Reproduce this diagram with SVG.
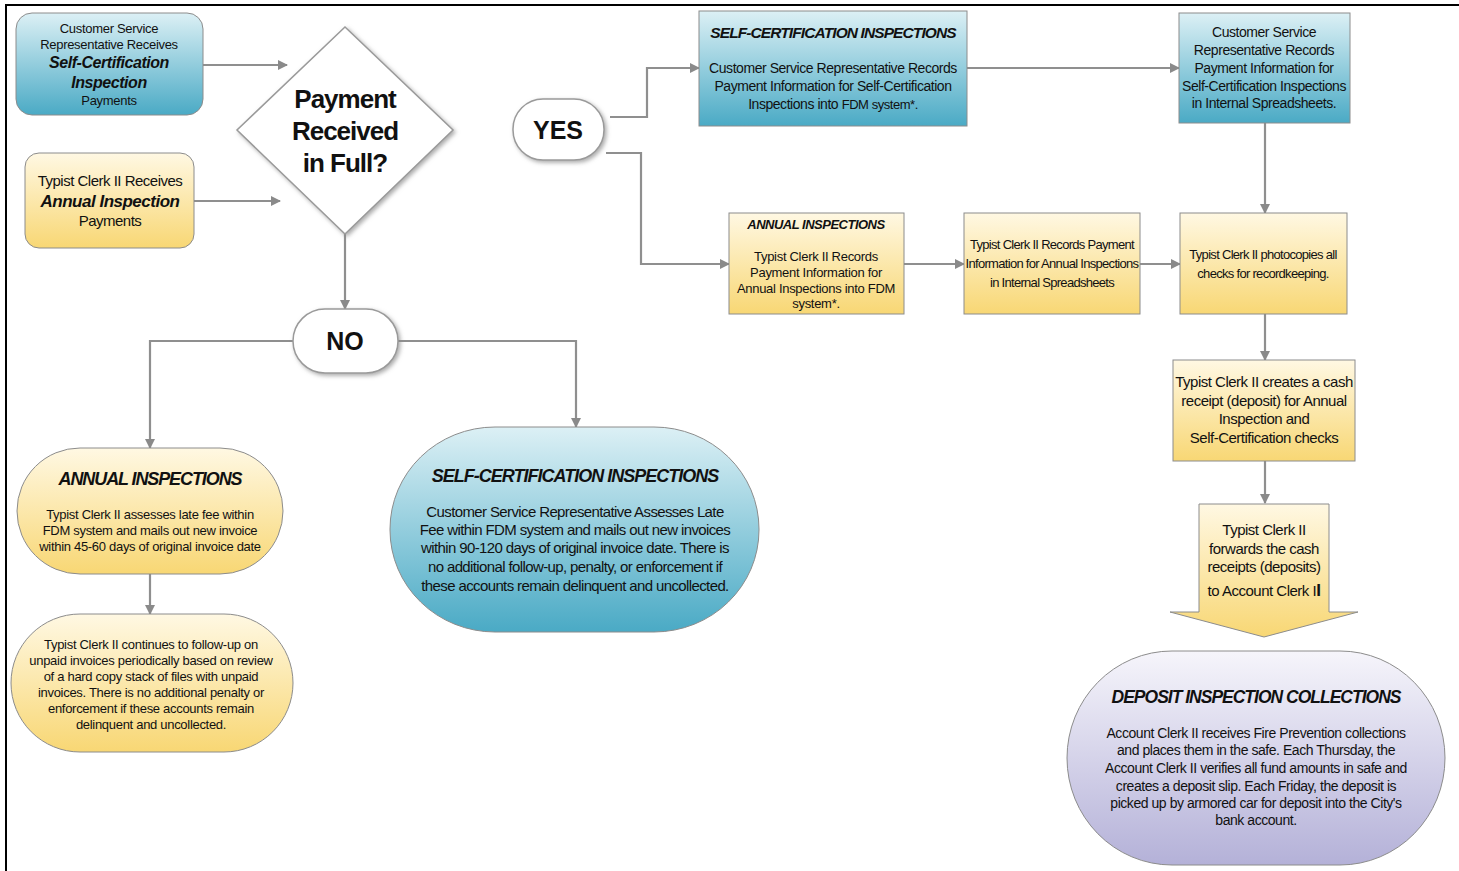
<svg xmlns="http://www.w3.org/2000/svg" width="1459" height="871" viewBox="0 0 1459 871">
<defs>
<linearGradient id="gBlue" x1="0" y1="0" x2="0" y2="1"><stop offset="0" stop-color="#dcf0f5"/><stop offset="1" stop-color="#4aaac5"/></linearGradient>
<linearGradient id="gYel" x1="0" y1="0" x2="0" y2="1"><stop offset="0" stop-color="#fff8e3"/><stop offset="1" stop-color="#f8d774"/></linearGradient>
<linearGradient id="gLav" x1="0" y1="0" x2="0" y2="1"><stop offset="0" stop-color="#f6f5fb"/><stop offset="1" stop-color="#b4b1d8"/></linearGradient>
<filter id="sh" x="-20%" y="-20%" width="140%" height="140%"><feDropShadow dx="2" dy="2" stdDeviation="2" flood-color="#888" flood-opacity="0.7"/></filter>
<marker id="ah" viewBox="0 0 10 10" refX="9" refY="5" markerWidth="10" markerHeight="10" markerUnits="userSpaceOnUse" orient="auto"><path d="M0,0 L10,5 L0,10 z" fill="#8a8a8a"/></marker>
<style>
text{font-family:"Liberation Sans",Arial,sans-serif;fill:#111;text-anchor:middle}
.n{stroke:#8c8c8c;stroke-width:1}
.c{fill:none;stroke:#8f8f8f;stroke-width:2.2}
.bi{font-weight:bold;font-style:italic}
.b{font-weight:bold}
.t13{font-size:13px;letter-spacing:-0.3px}
.t13n{font-size:13px;letter-spacing:-0.7px}
.t14{font-size:14px;letter-spacing:-0.45px}
.t15{font-size:15px;letter-spacing:-0.5px}
.t15n{font-size:15px;letter-spacing:-0.62px}
.dt{font-size:26px;font-weight:bold;letter-spacing:-1px}
</style>
</defs>
<rect width="1459" height="871" fill="#fff"/>
<path d="M6,871 V5 H1459" fill="none" stroke="#000" stroke-width="2"/>

<g id="connectors">
<path class="c" d="M203,65 H287" marker-end="url(#ah)"/>
<path class="c" d="M194,201 H280" marker-end="url(#ah)"/>
<path class="c" d="M610,117 H647 V68 H699" marker-end="url(#ah)"/>
<path class="c" d="M606,153 H641 V264 H729" marker-end="url(#ah)"/>
<path class="c" d="M967,68 H1179" marker-end="url(#ah)"/>
<path class="c" d="M1265,123 V213" marker-end="url(#ah)"/>
<path class="c" d="M904,264 H964" marker-end="url(#ah)"/>
<path class="c" d="M1140,264 H1180" marker-end="url(#ah)"/>
<path class="c" d="M1265,314 V360" marker-end="url(#ah)"/>
<path class="c" d="M1265,461 V503" marker-end="url(#ah)"/>
<path class="c" d="M345,234 V309" marker-end="url(#ah)"/>
<path class="c" d="M293,341 H150 V448" marker-end="url(#ah)"/>
<path class="c" d="M398,341 H576 V427" marker-end="url(#ah)"/>
<path class="c" d="M150,574 V614" marker-end="url(#ah)"/>
</g>

<g id="csr-receives">
<rect class="n" x="16" y="13" width="187" height="102" rx="16" fill="url(#gBlue)"/>
<text class="t13" x="109" y="33">Customer Service</text>
<text class="t13" x="109" y="49">Representative Receives</text>
<text class="bi" font-size="16" letter-spacing="-0.45" x="109" y="68">Self-Certification</text>
<text class="bi" font-size="16" letter-spacing="-0.45" x="109" y="88">Inspection</text>
<text class="t13" x="109" y="105">Payments</text>
</g>

<g id="typist-receives">
<rect class="n" x="25" y="153" width="169" height="95" rx="14" fill="url(#gYel)"/>
<text class="t15" x="110" y="186">Typist Clerk II Receives</text>
<text class="bi" font-size="17" letter-spacing="-0.5" x="110" y="207">Annual Inspection</text>
<text class="t15" x="110" y="226">Payments</text>
</g>

<g id="decision">
<path d="M345,27 L453,130 L345,234 L237,130 Z" fill="#fff" stroke="#9a9a9a" stroke-width="1.5" filter="url(#sh)"/>
<text class="dt" x="345" y="108">Payment</text>
<text class="dt" x="345" y="140">Received</text>
<text class="dt" x="345" y="172">in Full?</text>
</g>

<g id="yes">
<rect x="513" y="99" width="91" height="61" rx="30" fill="#fff" stroke="#9a9a9a" stroke-width="1.5" filter="url(#sh)"/>
<text class="b" font-size="25" x="558" y="139">YES</text>
</g>

<g id="sc-record-fdm">
<rect class="n" x="699" y="11" width="268" height="115" fill="url(#gBlue)"/>
<text class="bi" font-size="15.5" x="833" y="38" letter-spacing="-0.9">SELF-CERTIFICATION INSPECTIONS</text>
<text class="t14" x="833" y="73">Customer Service Representative Records</text>
<text class="t14" x="833" y="91">Payment Information for Self-Certification</text>
<text class="t14" x="833" y="109">Inspections into <tspan font-size="13">FDM system*.</tspan></text>
</g>

<g id="sc-record-sheet">
<rect class="n" x="1179" y="13" width="171" height="110" fill="url(#gBlue)"/>
<text class="t14" x="1264" y="37">Customer Service</text>
<text class="t14" x="1264" y="55">Representative Records</text>
<text class="t14" x="1264" y="73">Payment Information for</text>
<text class="t14" x="1264" y="91">Self-Certification Inspections</text>
<text class="t14" x="1264" y="108">in Internal Spreadsheets.</text>
</g>

<g id="annual-record-fdm">
<rect class="n" x="729" y="213" width="175" height="101" fill="url(#gYel)"/>
<text class="bi" font-size="13" letter-spacing="-0.5" x="816" y="229">ANNUAL INSPECTIONS</text>
<text class="t13" x="816" y="261">Typist Clerk II Records</text>
<text class="t13" x="816" y="277">Payment Information for</text>
<text class="t13" x="816" y="293">Annual Inspections into FDM</text>
<text class="t13" x="816" y="308">system*.</text>
</g>

<g id="annual-record-sheet">
<rect class="n" x="964" y="213" width="176" height="101" fill="url(#gYel)"/>
<text class="t13n" x="1052" y="249">Typist Clerk II Records Payment</text>
<text class="t13n" x="1052" y="268">Information for Annual Inspections</text>
<text class="t13n" x="1052" y="287">in Internal Spreadsheets</text>
</g>

<g id="photocopy">
<rect class="n" x="1180" y="213" width="167" height="101" fill="url(#gYel)"/>
<text class="t13n" x="1263" y="259">Typist Clerk II photocopies all</text>
<text class="t13n" x="1263" y="278">checks for recordkeeping.</text>
</g>

<g id="cash-receipt">
<rect class="n" x="1173" y="360" width="182" height="101" fill="url(#gYel)"/>
<text class="t15" x="1264" y="387">Typist Clerk II creates a cash</text>
<text class="t15" x="1264" y="406">receipt (deposit) for Annual</text>
<text class="t15" x="1264" y="424">Inspection and</text>
<text class="t15" x="1264" y="443">Self-Certification checks</text>
</g>

<g id="forward">
<path class="n" d="M1199,504 H1329 V612 H1358 L1264,637 L1170,612 H1199 Z" fill="url(#gYel)"/>
<text class="t15" x="1264" y="535">Typist Clerk II</text>
<text class="t15" x="1264" y="554">forwards the cash</text>
<text class="t15" x="1264" y="572">receipts (deposits)</text>
<text class="t15" x="1264" y="596">to Account Clerk I<tspan font-weight="bold" font-size="17">I</tspan></text>
</g>

<g id="deposit">
<rect class="n" x="1067" y="651" width="378" height="214" rx="105" ry="107" fill="url(#gLav)"/>
<text class="bi" font-size="17.5" x="1256" y="703" letter-spacing="-1">DEPOSIT INSPECTION COLLECTIONS</text>
<text class="t14" x="1256" y="738">Account Clerk II receives Fire Prevention collections</text>
<text class="t14" x="1256" y="755">and places them in the safe. Each Thursday, the</text>
<text class="t14" x="1256" y="773">Account Clerk II verifies  all fund amounts in safe and</text>
<text class="t14" x="1256" y="791">creates a deposit slip. Each Friday, the deposit is</text>
<text class="t14" x="1256" y="808">picked up by armored car for deposit into the City's</text>
<text class="t14" x="1256" y="825">bank account.</text>
</g>

<g id="no">
<rect x="293" y="309" width="105" height="64" rx="32" fill="#fff" stroke="#9a9a9a" stroke-width="1.5" filter="url(#sh)"/>
<text class="b" font-size="25" x="345" y="350">NO</text>
</g>

<g id="annual-late">
<rect class="n" x="17" y="448" width="266" height="126" rx="63" fill="url(#gYel)"/>
<text class="bi" font-size="18" letter-spacing="-1.1" x="150" y="485">ANNUAL INSPECTIONS</text>
<text class="t13" x="150" y="519">Typist Clerk II assesses late fee within</text>
<text class="t13" x="150" y="535">FDM system and mails out new invoice</text>
<text class="t13" x="150" y="551">within 45-60 days of original invoice date</text>
</g>

<g id="annual-followup">
<rect class="n" x="11" y="614" width="282" height="138" rx="69" fill="url(#gYel)"/>
<text class="t13" x="151" y="649">Typist Clerk II continues to follow-up on</text>
<text class="t13" x="151" y="665">unpaid invoices periodically based on review</text>
<text class="t13" x="151" y="681">of a hard copy stack of files with unpaid</text>
<text class="t13" x="151" y="697">invoices. There is no additional penalty or</text>
<text class="t13" x="151" y="713">enforcement if these accounts remain</text>
<text class="t13" x="151" y="729">delinquent and uncollected.</text>
</g>

<g id="sc-late">
<rect class="n" x="390" y="427" width="369" height="205" rx="105" ry="102" fill="url(#gBlue)"/>
<text class="bi" font-size="18" x="575" y="482" letter-spacing="-1">SELF-CERTIFICATION INSPECTIONS</text>
<text class="t15n" x="575" y="517">Customer Service Representative Assesses Late</text>
<text class="t15n" x="575" y="535">Fee within FDM system and mails out new invoices</text>
<text class="t15n" x="575" y="553">within 90-120 days of original invoice date. There is</text>
<text class="t15n" x="575" y="572">no additional follow-up, penalty, or enforcement if</text>
<text class="t15n" x="575" y="591">these accounts remain delinquent and uncollected.</text>
</g>
</svg>
